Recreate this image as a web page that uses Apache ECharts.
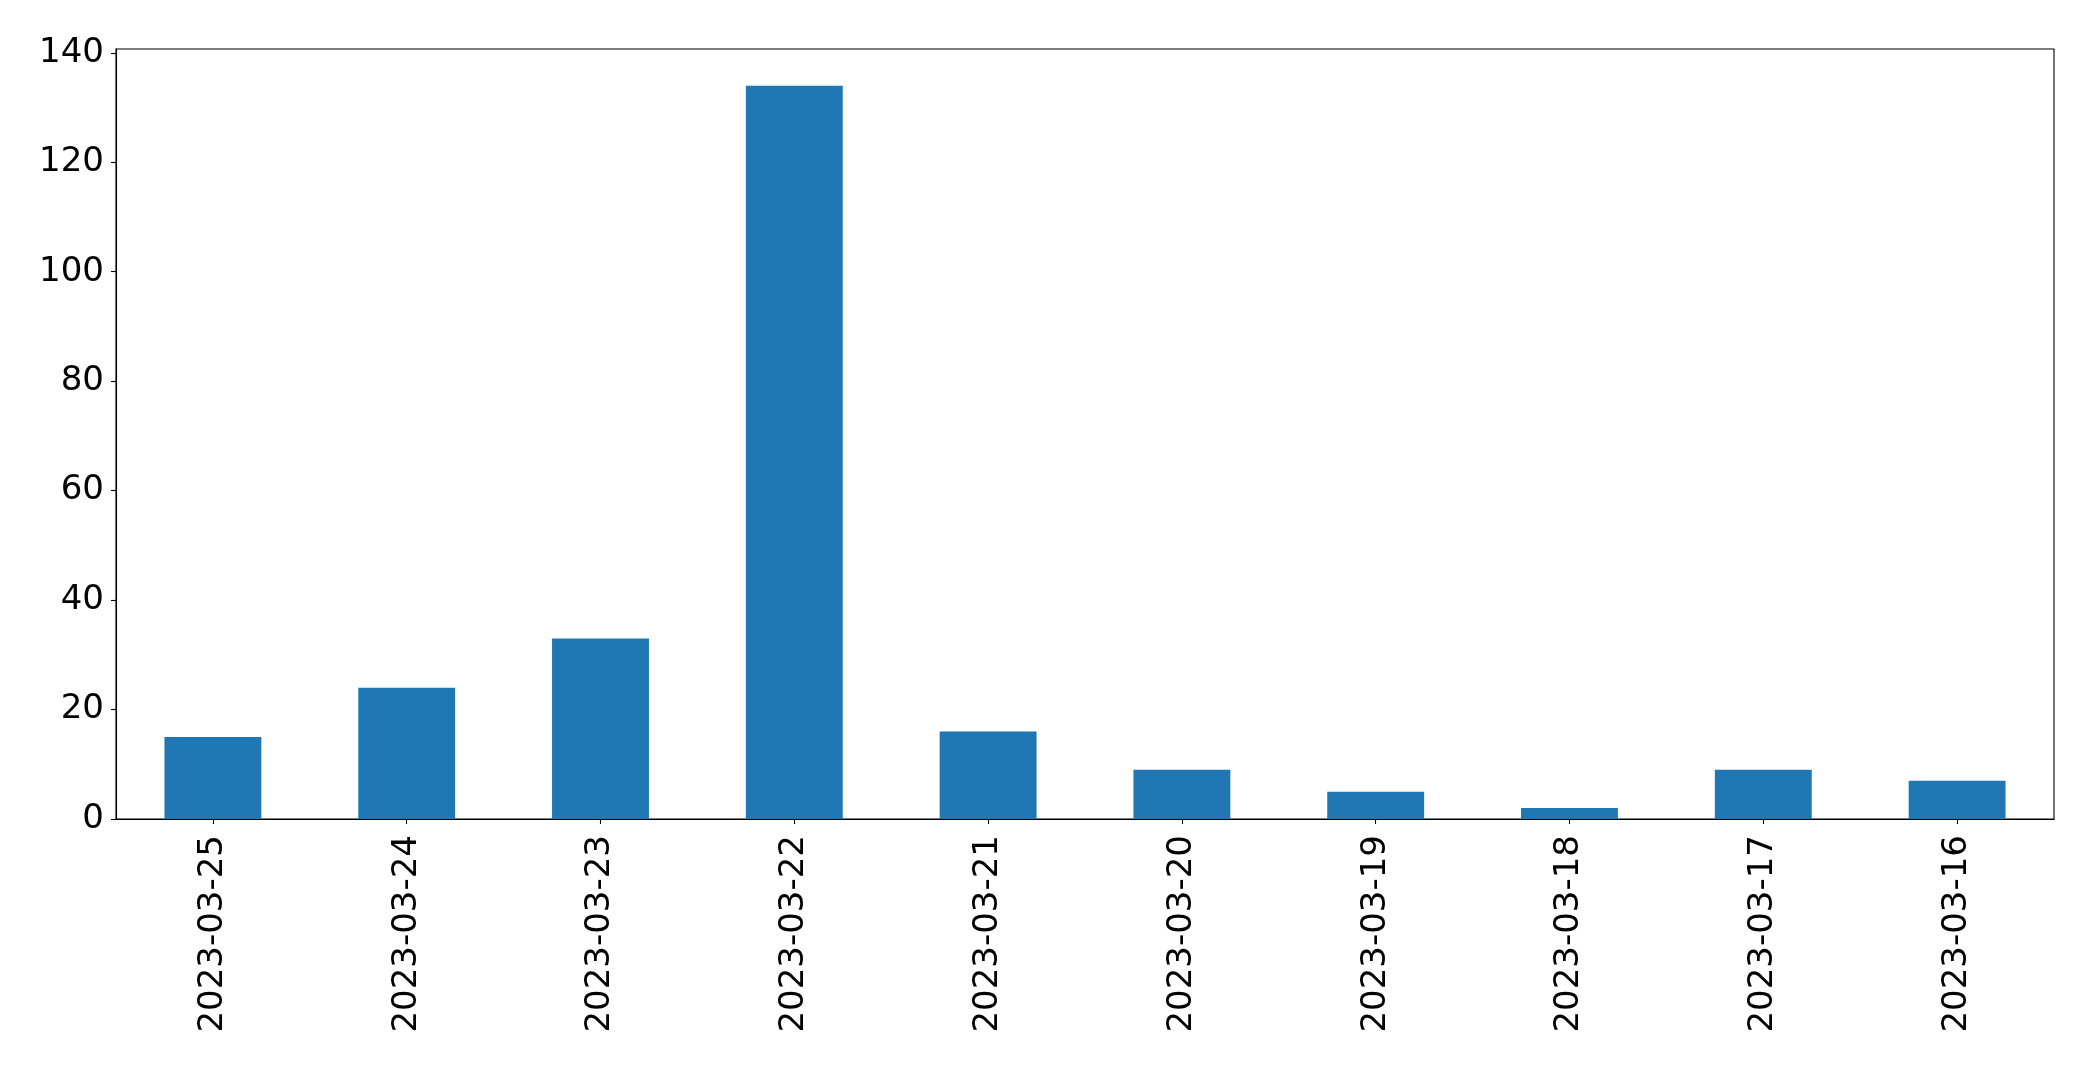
<!DOCTYPE html>
<html>
<head>
<meta charset="utf-8">
<script src="https://cdn.jsdelivr.net/npm/echarts@6/dist/echarts.min.js"></script>
<style>
html,body{margin:0;padding:0;background:#fff;}
#chart{width:2093px;height:1071px;}
</style>
</head>
<body>
<div id="chart"></div>
<script>
const categories = ['2023-03-25','2023-03-24','2023-03-23','2023-03-22','2023-03-21','2023-03-20','2023-03-19','2023-03-18','2023-03-17','2023-03-16'];
const counts = [15, 24, 33, 134, 16, 9, 5, 2, 9, 7];
const yTicks = [0, 20, 40, 60, 80, 100, 120, 140];
const yMax = 140.7;

const chart = echarts.init(document.getElementById('chart'));
const font = 'DejaVu Sans';
chart.setOption({
  animation: false,
  backgroundColor: '#ffffff',
  grid: {
    left: 116, right: 39, top: 49, bottom: 252,
    show: true, borderColor: '#000', borderWidth: 1.1, backgroundColor: 'transparent'
  },
  xAxis: {
    type: 'category',
    data: categories,
    boundaryGap: true,
    axisLine: {show: true, lineStyle: {color: '#000', width: 1.1}},
    axisTick: {show: true, alignWithLabel: true, length: 5, lineStyle: {color: '#000', width: 1.1}},
    axisLabel: {rotate: 90, margin: 16, fontSize: 34, fontFamily: font, color: '#000', interval: 0},
    splitLine: {show: false}
  },
  yAxis: {
    type: 'value',
    min: 0, max: yMax,
    axisLine: {show: true, lineStyle: {color: '#000', width: 1.1}},
    axisTick: {show: true, length: 5, lineStyle: {color: '#000', width: 1.1}, customValues: yTicks},
    axisLabel: {margin: 12, fontSize: 34, fontFamily: font, color: '#000', customValues: yTicks},
    splitLine: {show: false}
  },
  series: [{
    type: 'bar',
    data: counts,
    barWidth: '50%',
    itemStyle: {color: '#1f77b4'}
  }]
});
</script>
</body>
</html>
